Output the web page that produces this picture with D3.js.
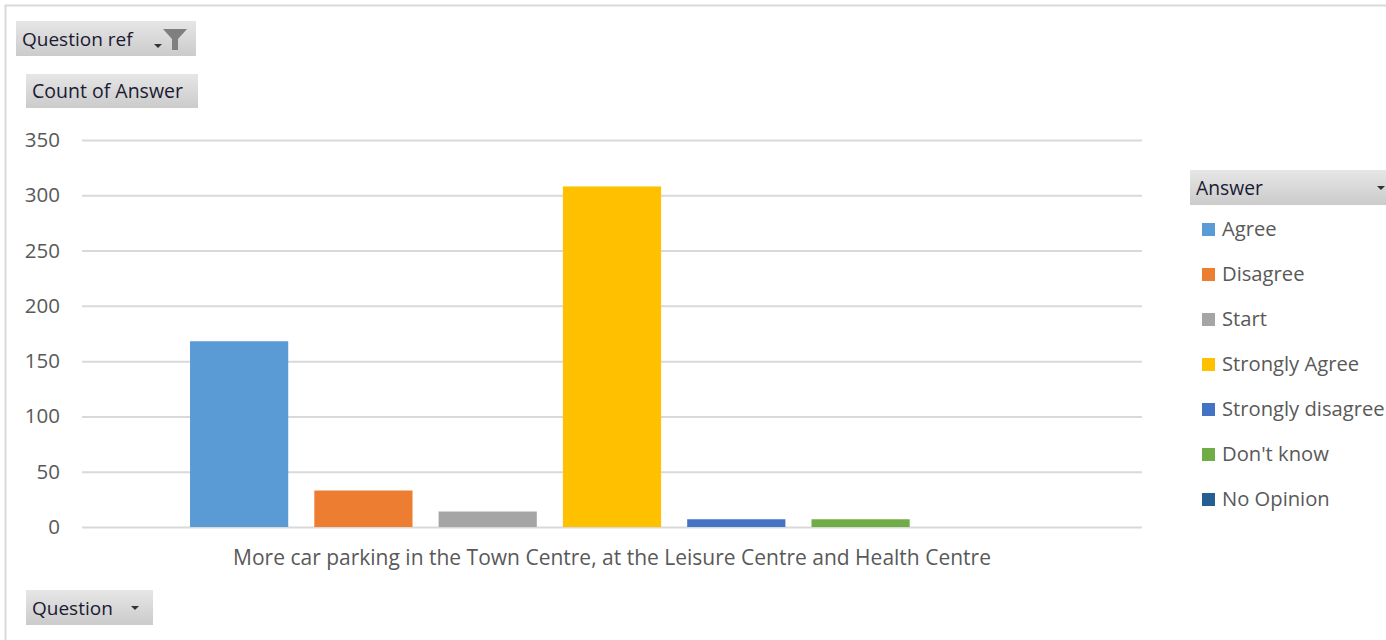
<!DOCTYPE html>
<html><head><meta charset="utf-8">
<script src="https://cdn.jsdelivr.net/npm/d3@7"></script>
<style>
html,body{margin:0;padding:0;background:#fff;}
svg{display:block;}
</style></head>
<body>
<svg id="chart" width="1386" height="640"></svg>
<script>
const categories = ["More car parking in the Town Centre, at the Leisure Centre and Health Centre"];
const series = ["Agree","Disagree","Start","Strongly Agree","Strongly disagree","Don't know","No Opinion"];
const values = [168, 33, 14, 308, 7, 7, 0];
const colors = ["#5B9BD5","#ED7D31","#A5A5A5","#FFC000","#4472C4","#70AD47","#255E91"];
const yTicks = [0,50,100,150,200,250,300,350];

const svg = d3.select("#chart");
const font = "Open Sans, Noto Sans, sans-serif";

// border
svg.append("rect").attr("x",5.5).attr("y",5.5).attr("width",1400).attr("height",700)
  .attr("fill","none").attr("stroke","#d9d9d9").attr("stroke-width",2);

const plot = {left:82, right:1142, top:140, bottom:527};
const y = d3.scaleLinear().domain([0,350]).range([plot.bottom, plot.top]);
const x0 = d3.scaleBand().domain(categories).range([plot.left, plot.right]).paddingInner(0).paddingOuter(0.128);
const x1 = d3.scaleBand().domain(series).range([0, x0.bandwidth()]).paddingInner(0.21).paddingOuter(0);

// gridlines + y axis
const yAxis = d3.axisLeft(y).tickValues(yTicks).tickSize(-(plot.right-plot.left)).tickPadding(22);
const ga = svg.append("g").attr("transform",`translate(${plot.left},0)`).call(yAxis);
ga.select(".domain").remove();
ga.selectAll(".tick line").attr("stroke","#d9d9d9").attr("stroke-width",2);
ga.selectAll(".tick text").attr("fill","#595959").style("font-family",font).style("font-size","20.5px");

// bars
const gb = svg.append("g");
categories.forEach(c=>{
  gb.selectAll("rect.bar").data(series.map((s,i)=>({s,v:values[i],c:colors[i]})))
    .enter().append("rect").attr("class","bar")
    .attr("x",d=>x0(c)+x1(d.s)).attr("width",x1.bandwidth())
    .attr("y",d=>y(d.v)).attr("height",d=>y(0)-y(d.v))
    .attr("fill",d=>d.c);
});

// category label
svg.append("text").attr("x",x0(categories[0])+x0.bandwidth()/2).attr("y",565)
  .attr("text-anchor","middle").attr("fill","#595959")
  .style("font-family",font).style("font-size","21px").text(categories[0]);

// buttons
const defs = svg.append("defs");
const grad = defs.append("linearGradient").attr("id","btn").attr("x1",0).attr("y1",0).attr("x2",0).attr("y2",1);
grad.append("stop").attr("offset","0%").attr("stop-color","#e6e6e6");
grad.append("stop").attr("offset","100%").attr("stop-color","#cbcbcb");

function button(x,yy,w,h,label,size){
  svg.append("rect").attr("x",x).attr("y",yy).attr("width",w).attr("height",h).attr("fill","url(#btn)");
  svg.append("text").attr("x",x+6).attr("y",yy+h/2+7).attr("fill","#1a1a33")
    .style("font-family",font).style("font-size",size+"px").text(label);
}
function arrow(cx,cy){
  svg.append("path").attr("d",`M${cx-4},${cy-2}L${cx+4},${cy-2}L${cx},${cy+2}Z`).attr("fill","#333");
}
button(16,21,180,35,"Question ref",19);
arrow(158,46);
svg.append("path").attr("d","M163,29L187,29L178,39L178,50L172,50L172,39Z").attr("fill","#7f7f7f");
button(26,74,172,34,"Count of Answer",19.5);
button(26,590,127,35,"Question",19);
arrow(135,608);
button(1190,170,200,35,"Answer",19.3);
arrow(1381,188);

// legend
const lg = svg.append("g");
series.forEach((s,i)=>{
  const yy = 229 + i*45;
  lg.append("rect").attr("x",1202).attr("y",yy-6).attr("width",13).attr("height",13).attr("fill",colors[i]);
  lg.append("text").attr("x",1222).attr("y",yy+7).attr("fill","#595959")
    .style("font-family",font).style("font-size","20.2px").text(s);
});
</script>
</body></html>
